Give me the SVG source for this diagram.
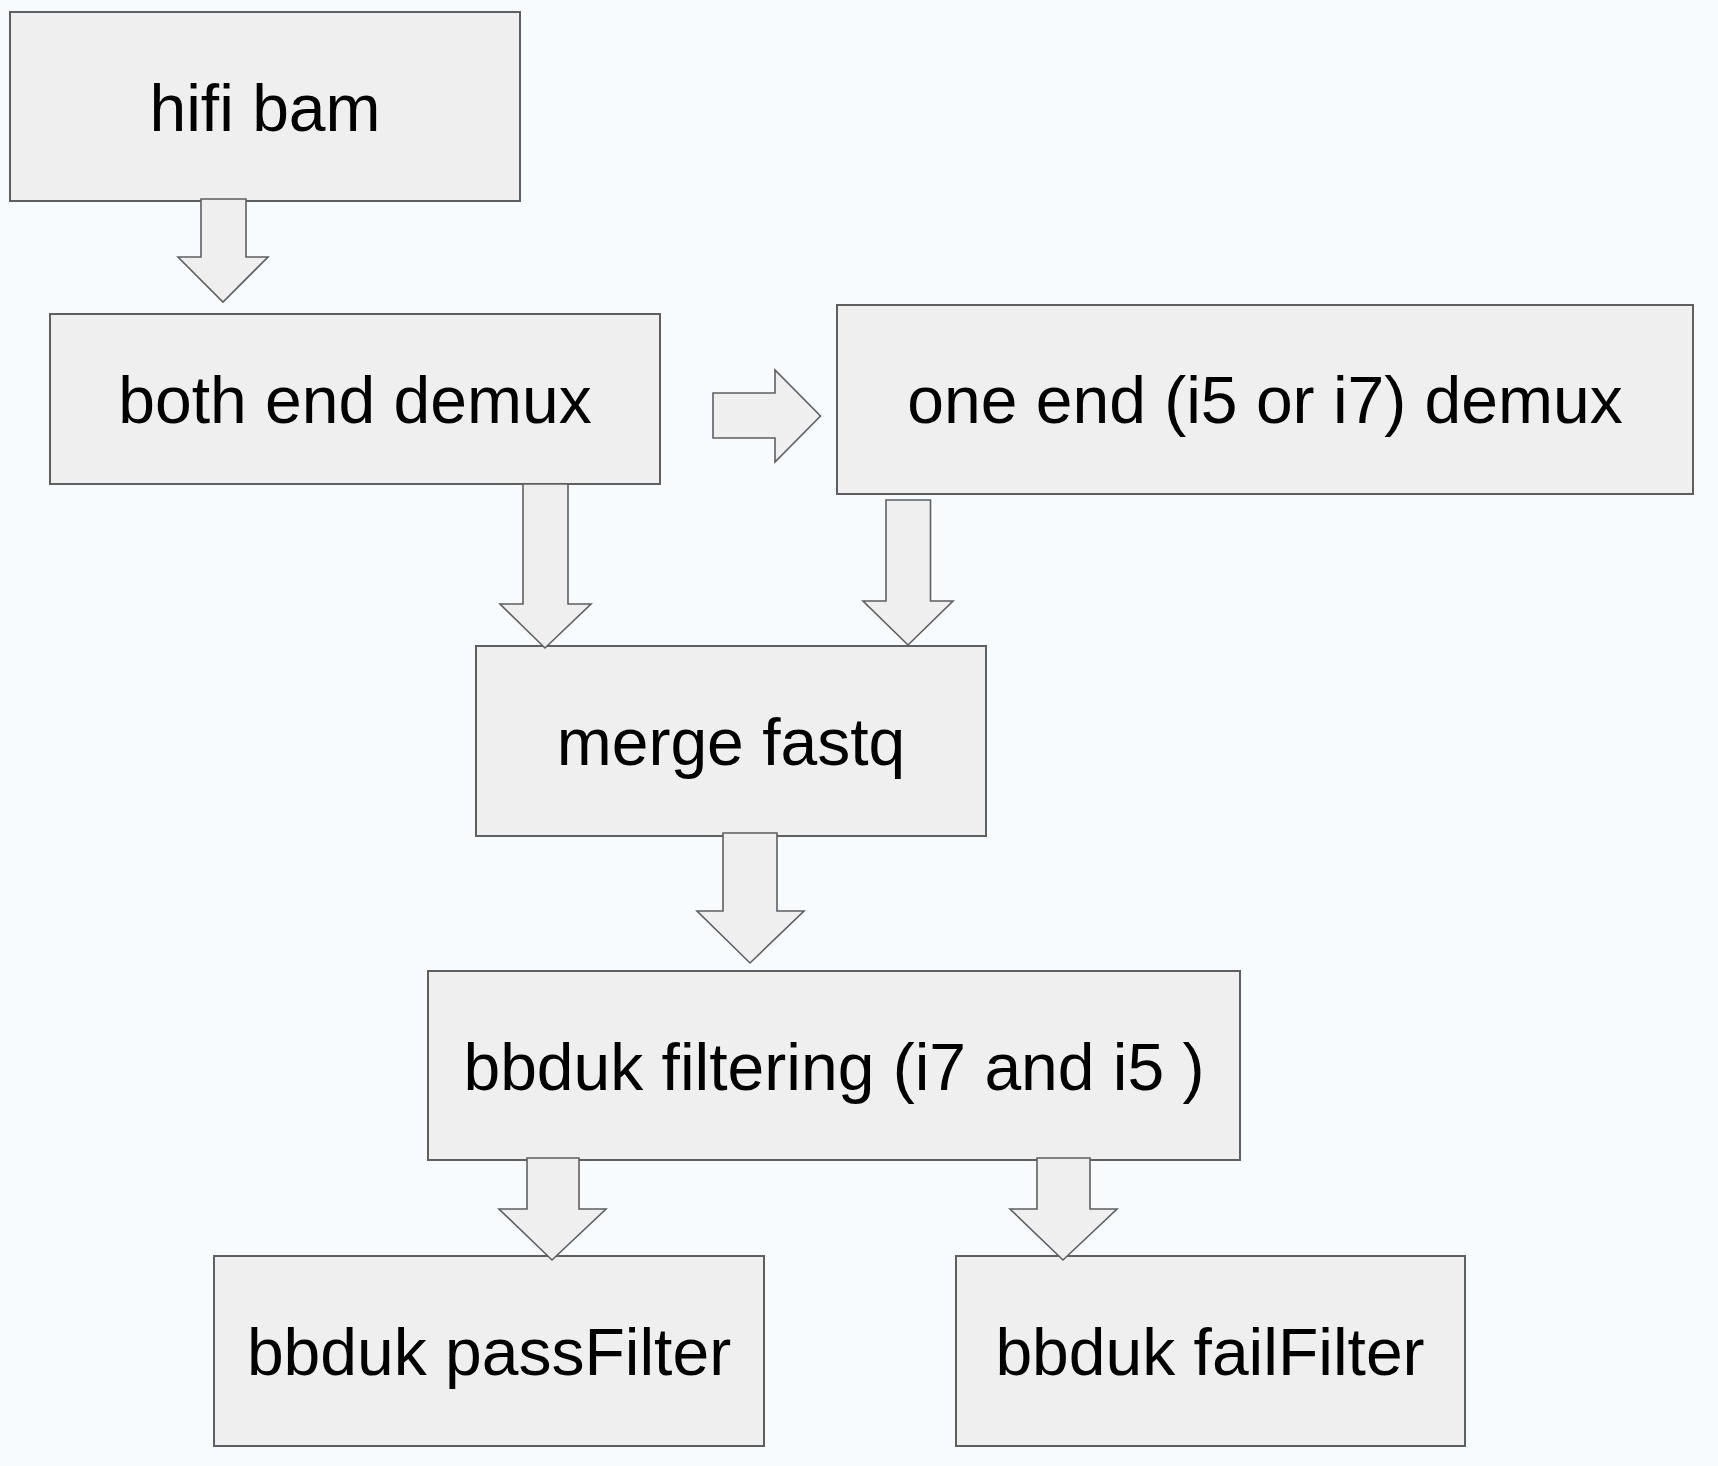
<svg xmlns="http://www.w3.org/2000/svg" width="1718" height="1466" viewBox="0 0 1718 1466">
<style>
.box{fill:#efefef;stroke:#5f5f5f;stroke-width:2}
.arr{fill:#efefef;stroke:#5f5f5f;stroke-width:1.6;stroke-linejoin:miter}
.lbl{font-family:"Liberation Sans",Arial,sans-serif;font-size:66px;fill:#000;text-anchor:middle}
</style>
<rect x="0" y="0" width="1718" height="1466" fill="#f7fbfd"/>
<g id="hifi-bam">
<rect class="box" x="10" y="12" width="510" height="189"/>
<text class="lbl" x="265" y="131">hifi bam</text>
</g>
<g id="both-end-demux">
<rect class="box" x="50" y="314" width="610" height="170"/>
<text class="lbl" x="355" y="423">both end demux</text>
</g>
<g id="one-end-demux">
<rect class="box" x="837" y="305" width="856" height="189"/>
<text class="lbl" x="1265" y="423">one end (i5 or i7) demux</text>
</g>
<g id="merge-fastq">
<rect class="box" x="476" y="646" width="510" height="190"/>
<text class="lbl" x="731" y="765">merge fastq</text>
</g>
<g id="bbduk-filtering">
<rect class="box" x="428" y="971" width="812" height="189"/>
<text class="lbl" x="834" y="1090" xml:space="preserve">bbduk filtering (i7 and i5 )</text>
</g>
<g id="bbduk-passfilter">
<rect class="box" x="214" y="1256" width="550" height="190"/>
<text class="lbl" x="489" y="1375">bbduk passFilter</text>
</g>
<g id="bbduk-failfilter">
<rect class="box" x="956" y="1256" width="509" height="190"/>
<text class="lbl" x="1210" y="1375">bbduk failFilter</text>
</g>
<g id="connectors">
<polygon class="arr" points="201,199 246,199 246,257 268,257 223,302 178,257 201,257"/>
<polygon class="arr" points="713,393 775,393 775,370 820.5,416 775,462 775,438 713,438"/>
<polygon class="arr" points="523,484 568,484 568,604 591,604 545,648 500,604 523,604"/>
<polygon class="arr" points="886,500 930.5,500 930.5,601 953,601 908,645 863,601 886,601"/>
<polygon class="arr" points="723,833 777,833 777,911 804,911 750,963 697,911 723,911"/>
<polygon class="arr" points="527,1158 579,1158 579,1209 606,1209 552,1260 499,1209 527,1209"/>
<polygon class="arr" points="1037,1158 1090,1158 1090,1209 1117,1209 1063,1260 1010,1209 1037,1209"/>
</g>
</svg>
